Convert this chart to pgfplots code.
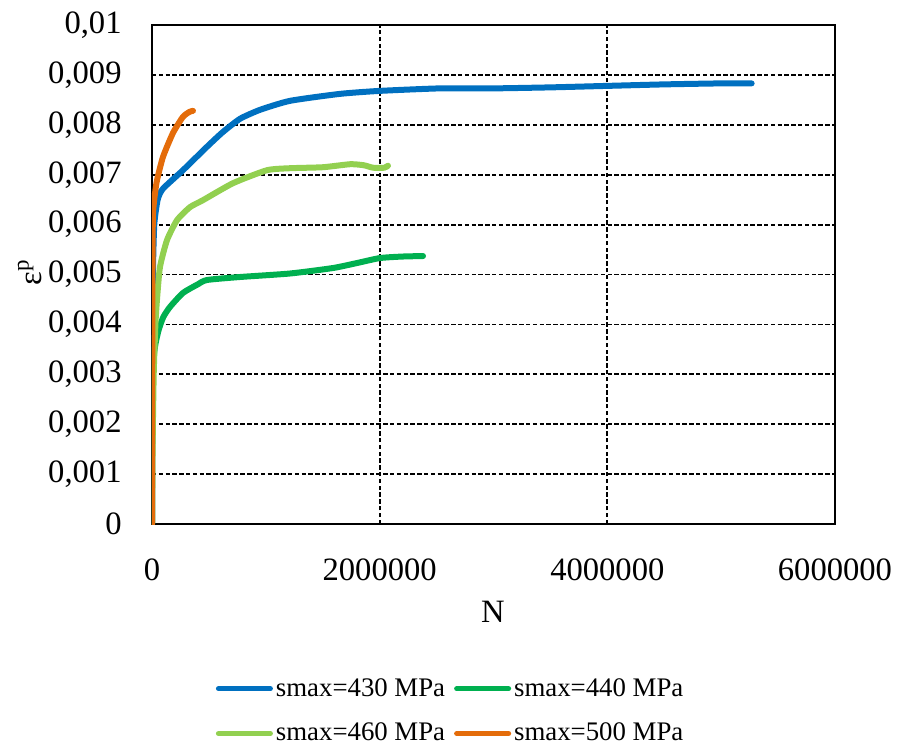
\documentclass[border=0pt]{standalone}
\usepackage{pgfplots}
\pgfplotsset{compat=1.18}
\usepackage{fontspec}
\setmainfont{Liberation Serif}
\definecolor{cA}{HTML}{0070C0}
\definecolor{cB}{HTML}{00B050}
\definecolor{cC}{HTML}{92D050}
\definecolor{cD}{HTML}{E46C0A}
\begin{document}
\begin{tikzpicture}
\useasboundingbox (-76pt,-111pt) rectangle (374.5pt,262pt);
\begin{axis}[
  at={(0,0)}, anchor=south west,
  scale only axis, width=341.5pt, height=249.5pt,
  xmin=0, xmax=6000000, ymin=0, ymax=0.01,
  xtick={0,2000000,4000000,6000000},
  xticklabels={0,2000000,4000000,6000000},
  ytick={0,0.001,0.002,0.003,0.004,0.005,0.006,0.007,0.008,0.009,0.01},
  yticklabels={0,{0,001},{0,002},{0,003},{0,004},{0,005},{0,006},{0,007},{0,008},{0,009},{0,01}},
  scaled x ticks=false, scaled y ticks=false,
  major tick length=0pt,
  grid=major,
  major grid style={black, line width=0.9pt, dash pattern=on 2.2pt off 1.2pt},
  axis line style={black, line width=1pt},
  tick label style={font=\fontsize{16.3}{19}\selectfont},
  xticklabel style={anchor=center, yshift=-23pt},
  yticklabel style={anchor=east, inner sep=0pt, xshift=-15pt},
  xlabel={N},
  xlabel style={font=\fontsize{16.3}{19}\selectfont, at={(axis description cs:0.499,-0.176)}, anchor=center},
  ylabel={ε\textsuperscript{p}},
  ylabel style={font=\fontsize{16.3}{19}\selectfont, at={(axis description cs:-0.179,0.505)}, anchor=center},
  legend columns=2,
  legend cell align=left,
  legend style={draw=none, fill=none, at={(axis description cs:0.438,-0.375)}, anchor=center,
    font=\fontsize{13.4}{16}\selectfont, row sep=8pt,
    nodes={inner xsep=1.5pt},
    /tikz/every even column/.append style={column sep=3pt}},
  legend image code/.code={\draw[line width=2.5pt, line cap=round] (0pt,0pt) -- (26pt,0pt);},
  every axis plot/.append style={line width=3pt, line join=round, line cap=round, smooth, tension=0.35},
]
\addplot[cA] coordinates {
(0,0) (3000,0.003) (8000,0.005) (20000,0.006) (50000,0.0065) (96600,0.00672)
(272000,0.00709) (483000,0.00756) (620000,0.00785) (773000,0.00812) (949000,0.0083)
(1212000,0.00848) (1652000,0.00862) (2003000,0.00868) (2530000,0.00873) (3000000,0.00873)
(3500000,0.00875) (4000000,0.00878) (4500000,0.00881) (5000000,0.00883) (5268000,0.00883)};
\addlegendentry{smax=430 MPa}
\addplot[cB] coordinates {
(0,0) (3000,0.002) (10000,0.0032) (30000,0.0036) (60000,0.0039) (100000,0.00415) (158000,0.00435)
(272000,0.00463) (400000,0.0048) (483000,0.00489) (773000,0.00495) (1212000,0.00502)
(1590000,0.00513) (1801000,0.00523) (2003000,0.00533) (2200000,0.00536) (2381000,0.00537)};
\addlegendentry{smax=440 MPa}
\addplot[cC] coordinates {
(0,0) (5000,0.0015) (15000,0.003) (30000,0.004) (44000,0.0045) (70000,0.00515)
(132000,0.00569) (220000,0.00609) (334000,0.00635) (448000,0.00649) (712000,0.00683)
(1010000,0.00709) (1212000,0.00713) (1502000,0.00715) (1740000,0.00721) (1860000,0.00719)
(1942000,0.00714) (2040000,0.00714) (2073000,0.00718)};
\addlegendentry{smax=460 MPa}
\addplot[cD] coordinates {
(0,0) (2000,0.003) (5000,0.0055) (9000,0.00623) (25000,0.0066) (44000,0.00689)
(97000,0.00736) (185000,0.00784) (272000,0.00816) (330000,0.00826) (360000,0.00828)};
\addlegendentry{smax=500 MPa}
\end{axis}
\end{tikzpicture}
\end{document}
